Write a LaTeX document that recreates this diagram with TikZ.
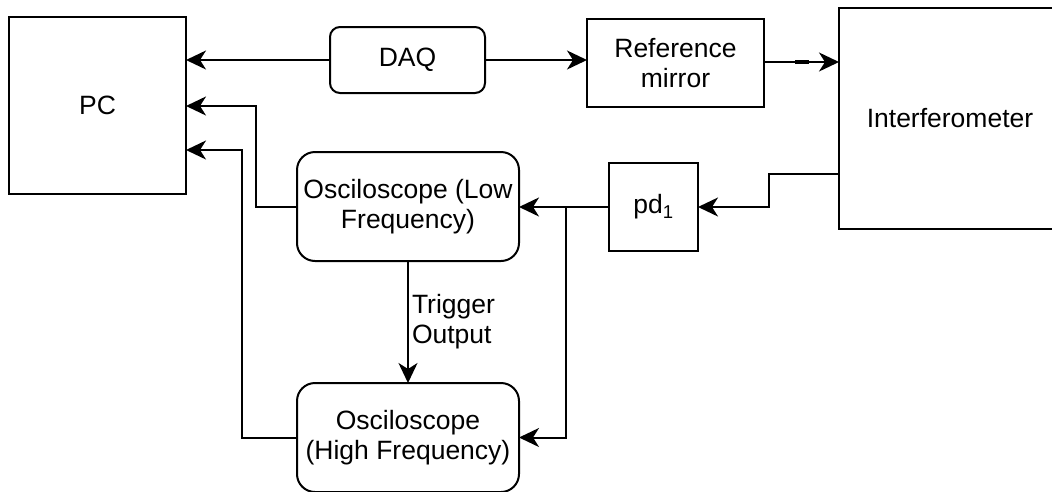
\documentclass[tikz,border=0pt]{standalone}
\usepackage{fontspec}
\setmainfont{Liberation Sans}
\usetikzlibrary{arrows.meta}
\begin{document}
\begin{tikzpicture}[x=1pt,y=-1pt,
  every node/.style={font=\fontsize{26.5}{30}\selectfont, inner sep=0pt, outer sep=0pt},
  sqbox/.style={draw, line width=2pt, align=center},
  rbox/.style={draw, line width=2pt, align=center, rounded corners=#1},
  conn/.style={line width=2pt, -{Stealth[length=20pt,width=19pt,inset=6pt]}},
  plain/.style={line width=2pt}]
\useasboundingbox (0,0) rectangle (1052,491);
\fill[white] (0,0) rectangle (1052,491);
\clip (0,0) rectangle (1052,491);

\node[sqbox, minimum width=177pt, minimum height=177pt] (pc) at (97.5,105.5) {PC};
\node[rbox=10pt, minimum width=155pt, minimum height=66pt] (daq) at (407.5,60) {DAQ};
\node[sqbox, minimum width=177pt, minimum height=88pt] (ref) at (675.5,63) {Reference\\mirror};
\node[sqbox, minimum width=222pt, minimum height=221pt] (int) at (950,118.5) {Interferometer};
\node[rbox=18pt, minimum width=222pt, minimum height=109pt] (osclow) at (408,206.5) {Osciloscope (Low\\Frequency)};
\node[sqbox, minimum width=89pt, minimum height=88pt] (pd) at (653.5,207) {pd\textsubscript{1}};
\node[rbox=18pt, minimum width=222pt, minimum height=109pt] (oschigh) at (408,437.5) {Osciloscope\\(High Frequency)};

\coordinate (c1) at (256,106);
\coordinate (c2) at (242,150);
\coordinate (c3) at (769,174);
\coordinate (br) at (566,207);
\coordinate (d1) at (795,62);
\coordinate (d2) at (809,62);

\draw[conn] (daq.west) -- (daq.west -| pc.east);
\draw[conn] (daq.east) -- (daq.east -| ref.west);
\draw[conn] (ref.east |- d1) -- (d1 -| int.west);
\draw[line width=3.5pt] (d1) -- (d2);
\draw[conn] (osclow.west) -| (c1) -- (c1 -| pc.east);
\draw[conn] (oschigh.west) -| (c2) -- (c2 -| pc.east);
\draw[conn] (c3 -| int.west) -- (c3) |- (pd.east);
\draw[conn] (pd.west) -- (pd.west -| osclow.east);
\draw[conn] (br) |- (oschigh.east);
\draw[conn] (osclow.south) -- node[anchor=west, align=left, xshift=4pt] (trig) {Trigger\\Output} (oschigh.north);
\end{tikzpicture}
\end{document}
